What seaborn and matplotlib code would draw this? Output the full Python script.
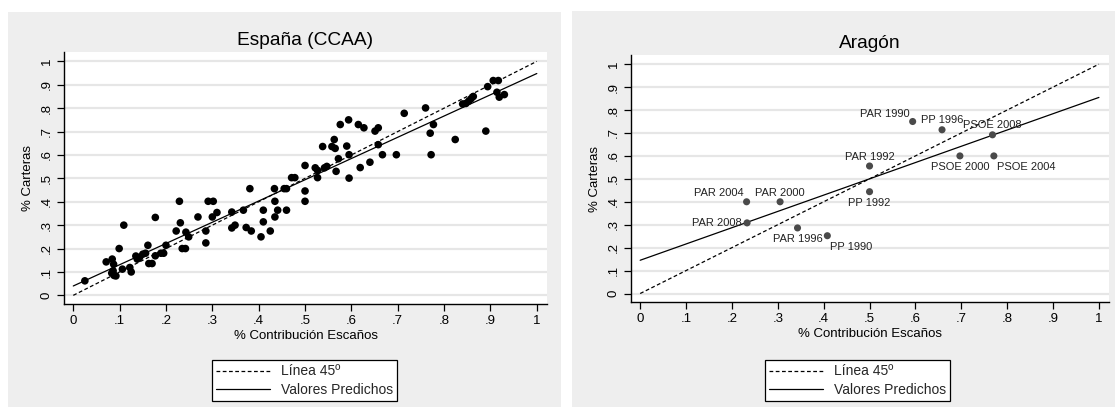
import numpy as np
import pandas as pd
import matplotlib
matplotlib.use("Agg")
import matplotlib.pyplot as plt
from matplotlib.lines import Line2D
from matplotlib.patches import Rectangle
import seaborn as sns

# ---------------- data ----------------
esp_x = [0.025, 0.071, 0.084, 0.087, 0.083, 0.088, 0.092, 0.086, 0.099, 0.109,
         0.106, 0.122, 0.125, 0.135, 0.138, 0.143, 0.150, 0.156, 0.161, 0.163,
         0.170, 0.177, 0.177, 0.189, 0.195, 0.200, 0.229, 0.231, 0.222, 0.235,
         0.242, 0.243, 0.249, 0.269, 0.286, 0.286, 0.291, 0.302, 0.300, 0.310,
         0.342, 0.342, 0.349, 0.367, 0.373, 0.384, 0.381, 0.405, 0.410, 0.410,
         0.425, 0.435, 0.441, 0.435, 0.434, 0.455, 0.460, 0.460, 0.471, 0.478,
         0.500, 0.500, 0.500, 0.522, 0.527, 0.527, 0.538, 0.542, 0.547, 0.567,
         0.558, 0.565, 0.563, 0.572, 0.576, 0.590, 0.594, 0.595, 0.595, 0.615,
         0.627, 0.619, 0.640, 0.651, 0.658, 0.658, 0.667, 0.697, 0.714, 0.760,
         0.770, 0.777, 0.772, 0.824, 0.890, 0.840, 0.847, 0.853, 0.858, 0.863,
         0.894, 0.906, 0.917, 0.914, 0.919, 0.930]
esp_y = [0.062, 0.143, 0.155, 0.133, 0.095, 0.085, 0.083, 0.105, 0.200, 0.300,
         0.112, 0.119, 0.100, 0.168, 0.155, 0.162, 0.176, 0.180, 0.214, 0.136,
         0.136, 0.169, 0.333, 0.180, 0.180, 0.214, 0.402, 0.310, 0.275, 0.200,
         0.200, 0.270, 0.250, 0.335, 0.275, 0.224, 0.402, 0.402, 0.335, 0.354,
         0.356, 0.288, 0.300, 0.364, 0.290, 0.275, 0.456, 0.250, 0.364, 0.314,
         0.275, 0.335, 0.364, 0.402, 0.456, 0.456, 0.456, 0.364, 0.503, 0.503,
         0.555, 0.446, 0.402, 0.545, 0.534, 0.503, 0.636, 0.545, 0.551, 0.530,
         0.636, 0.628, 0.666, 0.584, 0.730, 0.638, 0.750, 0.601, 0.501, 0.730,
         0.716, 0.546, 0.569, 0.702, 0.716, 0.644, 0.601, 0.601, 0.778, 0.801,
         0.693, 0.730, 0.601, 0.666, 0.702, 0.818, 0.820, 0.830, 0.840, 0.850,
         0.892, 0.918, 0.918, 0.868, 0.847, 0.858]
esp_fit = (0.040, 0.908)   # intercept, slope of predicted values

ara_labels = ["PAR 1990", "PP 1996", "PSOE 2008", "PSOE 2000", "PSOE 2004",
              "PAR 1992", "PP 1992", "PP 1990", "PAR 1996", "PAR 2004",
              "PAR 2000", "PAR 2008"]
ara_x = [0.594, 0.658, 0.768, 0.697, 0.771, 0.500, 0.500, 0.408, 0.343, 0.232,
         0.305, 0.233]
ara_y = [0.750, 0.714, 0.692, 0.600, 0.600, 0.556, 0.444, 0.252, 0.286, 0.400,
         0.400, 0.308]
ara_fit = (0.145, 0.710)

line_x = [0.0, 1.0]
ticks = [0, 0.1, 0.2, 0.3, 0.4, 0.5, 0.6, 0.7, 0.8, 0.9, 1.0]
tick_labels = ["0", ".1", ".2", ".3", ".4", ".5", ".6", ".7", ".8", ".9", "1"]
titles = ["España (CCAA)", "Aragón"]
xlabel = "% Contribución Escaños"
ylabel = "% Carteras"
legend_labels = ["Línea 45º", "Valores Predichos"]

# label placement (dx, dy in pixels, ha, va)
label_pos = {
    "PAR 1990": (-3, 3, "right", "bottom"),
    "PP 1996": (0, 5, "center", "bottom"),
    "PSOE 2008": (0, 5, "center", "bottom"),
    "PSOE 2000": (0, -6, "center", "top"),
    "PSOE 2004": (3, -6, "left", "top"),
    "PAR 1992": (0, 4, "center", "bottom"),
    "PP 1992": (0, -6, "center", "top"),
    "PP 1990": (3, -6, "left", "top"),
    "PAR 1996": (0, -6, "center", "top"),
    "PAR 2004": (-3, 4, "right", "bottom"),
    "PAR 2000": (0, 4, "center", "bottom"),
    "PAR 2008": (-5, 0, "right", "center"),
}

# ---------------- style ----------------
sns.set_theme(style="white")
plt.rcParams["font.family"] = ["Liberation Sans", "DejaVu Sans"]
BG = "#eeeeee"
GRID = "#e6e6e6"

W, H = 1115, 407
fig = plt.figure(figsize=(W / 100, H / 100), dpi=100, facecolor="white")

def px_rect(x0, y0, x1, y1):
    return [x0 / W, 1 - y1 / H, (x1 - x0) / W, (y1 - y0) / H]

# panel backgrounds
for (x0, y0, x1, y1) in [(8, 12, 561, 407), (572, 11, 1115, 407)]:
    r = px_rect(x0, y0, x1, y1)
    fig.patches.append(Rectangle((r[0], r[1]), r[2], r[3], transform=fig.transFigure,
                                 facecolor=BG, edgecolor="none", zorder=-10))

ax1 = fig.add_axes(px_rect(64, 52, 547, 304))
ax2 = fig.add_axes(px_rect(631, 55, 1109, 302))

def style_axes(ax, title):
    ax.set_facecolor("white")
    ax.set_xlim(-0.02, 1.022)
    ax.set_ylim(-0.037, 1.04)
    ax.set_xticks(ticks)
    ax.set_xticklabels(tick_labels, fontsize=9.5)
    ax.set_yticks(ticks)
    ax.set_yticklabels(tick_labels, fontsize=9.5, rotation=90, va="center")
    for t in ticks:
        ax.axhline(t, color=GRID, lw=1.6, zorder=0)
    for s in ["top", "right"]:
        ax.spines[s].set_visible(False)
    for s in ["left", "bottom"]:
        ax.spines[s].set_color("black")
        ax.spines[s].set_linewidth(1.0)
    ax.tick_params(axis="both", direction="out", length=5, width=0.9, color="black",
                   labelcolor="black", pad=3, bottom=True, left=True)
    ax.set_xlabel(xlabel, fontsize=9.5, color="black", labelpad=2)
    ax.set_ylabel(ylabel, fontsize=9.5, color="black", labelpad=5)
    ax.set_title(title, fontsize=13.8, color="black", pad=5)

def draw_lines(ax, fit):
    lx = np.array(line_x)
    sns.lineplot(x=lx, y=lx, ax=ax, color="black", lw=0.9, linestyle=(0, (3, 2)), zorder=3)
    sns.lineplot(x=lx, y=fit[0] + fit[1] * lx, ax=ax, color="black", lw=0.9, zorder=3)

# left panel
df1 = pd.DataFrame({"x": esp_x, "y": esp_y})
sns.scatterplot(data=df1, x="x", y="y", ax=ax1, color="black", s=30,
                edgecolor="none", zorder=4)
draw_lines(ax1, esp_fit)
style_axes(ax1, titles[0])

# right panel
df2 = pd.DataFrame({"x": ara_x, "y": ara_y, "label": ara_labels})
sns.scatterplot(data=df2, x="x", y="y", ax=ax2, color="#4a4a4a", s=26,
                edgecolor="none", zorder=4)
draw_lines(ax2, ara_fit)
style_axes(ax2, titles[1])
for _, row in df2.iterrows():
    dx, dy, ha, va = label_pos[row["label"]]
    ax2.annotate(row["label"], (row["x"], row["y"]), xytext=(dx * 0.72, dy * 0.72),
                 textcoords="offset points", ha=ha, va=va, fontsize=8,
                 color="#222222", zorder=5)

# legends
handles = [Line2D([], [], color="black", lw=0.9, linestyle=(0, (3, 2))),
           Line2D([], [], color="black", lw=0.9)]
for cx in [304.5 / W, 857.5 / W]:
    leg = fig.legend(handles, legend_labels, loc="center",
                     bbox_to_anchor=(cx, 1 - 380.5 / H), fontsize=10,
                     frameon=True, fancybox=False, framealpha=1, edgecolor="black",
                     handlelength=3.9, handletextpad=0.8, borderpad=0.3,
                     labelspacing=0.3, borderaxespad=0)
    leg.get_frame().set_linewidth(0.9)
    leg.get_frame().set_facecolor("white")

fig.savefig("out.png", dpi=100, facecolor="white")
